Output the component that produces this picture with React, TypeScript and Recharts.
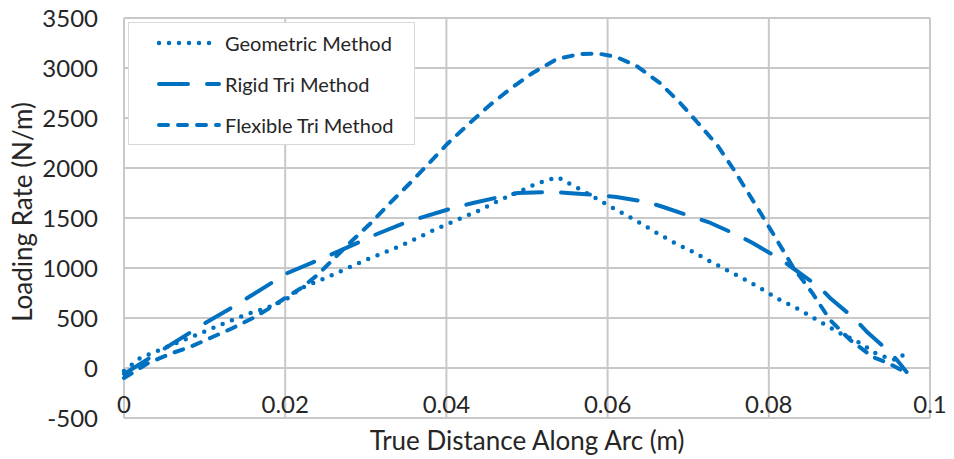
import React from 'react';
import { LineChart, Line, XAxis, YAxis, CartesianGrid, Legend } from 'recharts';

const BLUE = '#0070C0';
const TEXT = '#262626';
const FONT = 'Lato, "Open Sans", sans-serif';

const xTicks = [0, 0.02, 0.04, 0.06, 0.08, 0.1];
const yTicks = [-500, 0, 500, 1000, 1500, 2000, 2500, 3000, 3500];

// Geometric Method (dotted)
const geometricX = [
  0, 0.002, 0.005, 0.009, 0.0125, 0.015, 0.018, 0.02, 0.022, 0.025, 0.03, 0.034, 0.039,
  0.0413, 0.0439, 0.0464, 0.0489, 0.0514, 0.0538, 0.0551, 0.0563, 0.0587, 0.0611, 0.0634,
  0.0659, 0.0681, 0.0706, 0.0731, 0.0767, 0.0789, 0.0814, 0.0839, 0.0864, 0.0888, 0.0913,
  0.0932, 0.0947, 0.0959, 0.0971,
];
const geometricY = [
  -30, 100, 200, 330, 450, 530, 610, 680, 800, 900, 1080, 1210, 1400,
  1480, 1570, 1670, 1760, 1850, 1910, 1850, 1800, 1690, 1580, 1480,
  1360, 1260, 1160, 1050, 900, 800, 680, 580, 460, 350, 250,
  150, 100, 80, 160,
];

// Rigid Tri Method (long dash)
const rigidX = [
  0, 0.0103, 0.0135, 0.0153, 0.0187, 0.0203, 0.0241, 0.0256, 0.0314, 0.0351, 0.0408, 0.0433,
  0.0488, 0.053, 0.055, 0.0587, 0.0611, 0.0649, 0.0669, 0.0706, 0.0725, 0.0761, 0.078,
  0.0814, 0.0828, 0.0864, 0.0876, 0.0907, 0.0922, 0.0947, 0.0959, 0.0971,
];
const rigidY = [
  -60, 460, 610, 700, 870, 950, 1080, 1130, 1340, 1460, 1600, 1650,
  1750, 1760, 1750, 1730, 1710, 1660, 1610, 1510, 1460, 1330, 1250,
  1090, 1010, 800, 700, 490, 360, 180, 80, -40,
];

// Flexible Tri Method (short dash)
const flexibleX = [
  0, 0.003, 0.006, 0.0082, 0.0107, 0.0135, 0.016, 0.0181, 0.02, 0.022, 0.024, 0.026, 0.028,
  0.0305, 0.033, 0.0355, 0.038, 0.0401, 0.0429, 0.0454, 0.0479, 0.0507, 0.0537, 0.0566,
  0.0588, 0.0611, 0.0636, 0.0665, 0.069, 0.0711, 0.0736, 0.0756, 0.0773, 0.0789, 0.081,
  0.083, 0.0854, 0.0876, 0.0901, 0.0929, 0.0948, 0.0971,
];
const flexibleY = [
  -100, 50, 150, 210, 300, 400, 500, 600, 700, 800, 930, 1090, 1250,
  1440, 1650, 1850, 2060, 2240, 2450, 2630, 2790, 2950, 3090, 3140,
  3145, 3110, 3020, 2850, 2650, 2460, 2230, 1990, 1770, 1560, 1280,
  1010, 750, 480, 280, 110, 50, -50,
];

const toPoints = (xs: number[], ys: number[]) => xs.map((x, i) => ({ x, y: ys[i] }));

const series = [
  { name: 'Geometric Method', data: toPoints(geometricX, geometricY), dash: '0 10', width: 4.5 },
  { name: 'Rigid Tri Method', data: toPoints(rigidX, rigidY), dash: '29 19', width: 4 },
  { name: 'Flexible Tri Method', data: toPoints(flexibleX, flexibleY), dash: '9 10', width: 4 },
];

const XTick = ({ x, y, payload }: any) => (
  <text x={x} y={y - 5} textAnchor="middle" fill={TEXT} fontSize={24} fontFamily={FONT}>
    {payload.value}
  </text>
);

const XTitle = ({ viewBox }: any) => (
  <text
    x={viewBox.x + viewBox.width / 2}
    y={viewBox.y + 22}
    textAnchor="middle"
    dominantBaseline="central"
    fill={TEXT}
    fontSize={26}
    fontFamily={FONT}
  >
    True Distance Along Arc (m)
  </text>
);

const YTitle = ({ viewBox }: any) => {
  const cx = viewBox.x + 22;
  const cy = viewBox.y + viewBox.height / 2 - 6;
  return (
    <text
      x={cx}
      y={cy}
      transform={`rotate(-90 ${cx} ${cy})`}
      textAnchor="middle"
      dominantBaseline="central"
      fill={TEXT}
      fontSize={26}
      fontFamily={FONT}
    >
      Loading Rate (N/m)
    </text>
  );
};

const LegendBox = () => (
  <div
    style={{
      width: 287,
      height: 123,
      background: '#fff',
      border: '1px solid #d9d9d9',
      boxSizing: 'border-box',
      position: 'relative',
      fontFamily: FONT,
    }}
  >
    {series.map((s, i) => (
      <div
        key={s.name}
        style={{
          position: 'absolute',
          left: 28,
          top: 20 + i * 41 - 14,
          height: 28,
          display: 'flex',
          alignItems: 'center',
        }}
      >
        <svg width={64} height={10} style={{ display: 'block' }}>
          <line
            x1={2}
            y1={5}
            x2={62}
            y2={5}
            stroke={BLUE}
            strokeWidth={s.width}
            strokeLinecap="round"
            strokeDasharray={s.dash}
          />
        </svg>
        <span style={{ marginLeft: 4, fontSize: 20, color: TEXT, whiteSpace: 'nowrap' }}>{s.name}</span>
      </div>
    ))}
  </div>
);

export default function App() {
  return (
    <div style={{ position: 'absolute', left: 0, top: 0, width: 954, height: 459, background: '#fff' }}>
      <LineChart width={954} height={459} margin={{ top: 18, right: 24, bottom: 0, left: 0 }}>
        <CartesianGrid stroke="#c8c8c8" strokeWidth={2} />
        <XAxis
          dataKey="x"
          type="number"
          domain={[0, 0.1]}
          ticks={xTicks}
          axisLine={false}
          tickLine={false}
          tickSize={0}
          tickMargin={0}
          height={41}
          tick={<XTick />}
          label={<XTitle />}
          allowDuplicatedCategory={false}
        />
        <YAxis
          type="number"
          domain={[-500, 3500]}
          ticks={yTicks}
          width={124}
          axisLine={false}
          tickLine={false}
          tickSize={0}
          tickMargin={26}
          tick={{ fill: TEXT, fontSize: 24, fontFamily: FONT }}
          label={<YTitle />}
        />
        <Legend
          layout="horizontal"
          verticalAlign="middle"
          align="center"
          content={<LegendBox />}
          wrapperStyle={{ position: 'absolute', left: 128, top: 22, width: 287, height: 123 }}
        />
        {series.map((s) => (
          <Line
            key={s.name}
            data={s.data}
            dataKey="y"
            name={s.name}
            type="linear"
            stroke={BLUE}
            strokeWidth={s.width}
            strokeLinecap="round"
            strokeDasharray={s.dash}
            dot={false}
            activeDot={false}
            isAnimationActive={false}
          />
        ))}
      </LineChart>
    </div>
  );
}
